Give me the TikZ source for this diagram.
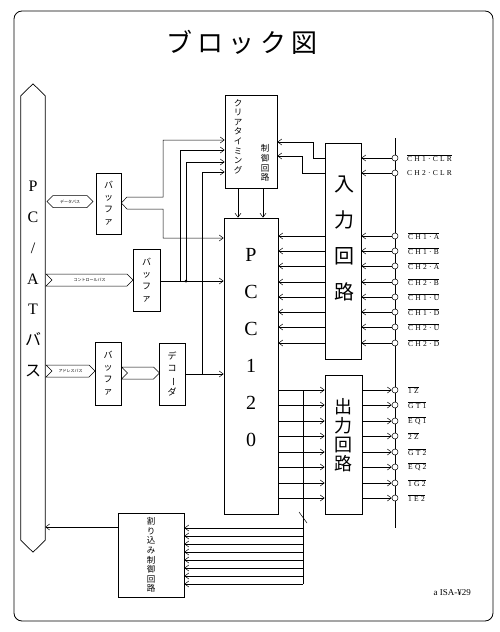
\documentclass[tikz,border=0pt]{standalone}
\usepackage{fontspec}
\setmainfont{Liberation Serif}
\newfontfamily\jp{Noto Sans CJK JP}
\newfontfamily\lblfont[LetterSpace=30]{Liberation Serif}
\newfontfamily\ttlfont[LetterSpace=20]{Noto Sans CJK JP}
\usetikzlibrary{arrows.meta,positioning,shapes.symbols}
\tikzset{
  blk/.style={draw,line width=0.7pt,inner sep=1pt},
  vtxt/.style={align=center,font=\jp\fontsize{8.5}{9.6}\selectfont},
  buftxt/.style={align=center,font=\jp\fontsize{9}{12}\selectfont},
  bigtxt/.style={align=center,font=\fontsize{20}{37}\selectfont},
  wire/.style={line width=0.5pt},
  arr/.style={wire,-{Straight Barb[length=4pt,width=6pt]}},
  term/.style={circle,draw,fill=white,line width=0.5pt,inner sep=0pt,minimum size=6pt},
  buslbl/.style={draw,line width=0.5pt,shape=signal,inner sep=1pt,minimum height=12pt,
    font=\jp\fontsize{4}{4}\selectfont},
  pinlbl/.style={anchor=west,font=\lblfont\fontsize{7.5}{8}\selectfont,inner sep=0pt},
}
\newcommand{\ovl}[1]{$\overline{\mbox{#1}}$}

\begin{document}
\begin{tikzpicture}[x=1pt,y=-1pt]
  \useasboundingbox (0,0) rectangle (500,632);
  \draw[line width=0.8pt,rounded corners=8pt] (14,11) rectangle (493,621);
  \node[font=\ttlfont\fontsize{26}{26}\selectfont] (title) at (242,42) {ブロック図};

  % PC/AT bus
  \node[minimum width=24pt,minimum height=444pt,inner sep=0pt] (bus) at (33,318) {};
  \draw[line width=0.7pt] (bus.north west) -- ([yshift=12pt]bus.north) -- (bus.north east)
    -- (bus.south east) -- ([yshift=-12pt]bus.south) -- (bus.south west) -- cycle;
  \node[align=center,font=\fontsize{16}{30.7}\selectfont] (bustxt) at (33,279)
    {P\\C\\/\\A\\T\\{\jp バ}\\{\jp ス}};

  % blocks
  \node[blk,buftxt,minimum width=25pt,minimum height=61pt] (buf1) at (108.5,203.5) {バ\\ッ\\フ\\ァ};
  \node[blk,buftxt,minimum width=27pt,minimum height=62pt] (buf2) at (146.5,280) {バ\\ッ\\フ\\ァ};
  \node[blk,buftxt,minimum width=26pt,minimum height=63pt] (buf3) at (108,373.5) {バ\\ッ\\フ\\ァ};
  \node[blk,buftxt,minimum width=26pt,minimum height=62pt] (dec) at (172,374)
    {デ\\コ\\\rotatebox[origin=c]{-90}{ー}\\ダ};
  \node[blk,minimum width=52pt,minimum height=93pt] (clr) at (251,141.5) {};
  \node[vtxt] (clrtxt1) at (238,136.5) {ク\\リ\\ア\\タ\\イ\\ミ\\ン\\グ};
  \node[vtxt] (clrtxt2) at (265,163) {制\\御\\回\\路};
  \node[blk,minimum width=54pt,minimum height=296pt] (pcc) at (251,366) {};
  \node[bigtxt] (pcctxt) at (251,348) {P\\C\\C\\1\\2\\0};
  \node[blk,minimum width=36pt,minimum height=216pt] (inb) at (343,251) {};
  \node[align=center,font=\jp\fontsize{20}{36}\selectfont] (inbtxt) at (344,238.5) {入\\力\\回\\路};
  \node[blk,minimum width=37pt,minimum height=139pt] (outb) at (343.5,444.5) {};
  \node[align=center,font=\jp\fontsize{18}{19}\selectfont] (outbtxt) at (343,435) {出\\力\\回\\路};
  \node[blk,vtxt,minimum width=66pt,minimum height=84pt] (irq) at (151,555)
    {割\\り\\込\\み\\制\\御\\回\\路};

  % bus flags
  \node[buslbl,signal to=east and west,minimum width=46pt] (dbus) at (70,201.5) {データバス};
  \node[buslbl,signal from=west,signal to=east,minimum width=87pt] (cbus) at (89.5,280) {コントロールバス};
  \node[buslbl,signal from=west,signal to=east,minimum width=49pt] (abus) at (70.5,371) {アドレスバス};
  \node[buslbl,signal from=west,signal to=east,minimum width=38pt] (adec) at (140.5,373) {};

  % data lines from buffer
  \draw[arr] (buf1.east |- 0,203) -- (127,197) -- (163,197) -- (163,140) -- (clr.west |- 0,140);
  \draw[arr] (buf1.east |- 0,203) -- (127,209) -- (163,209) -- (163,238) -- (pcc.west |- 0,238);
  % control and select lines
  \draw[arr] (buf2.east |- 0,281) -- (pcc.west |- 0,281);
  \draw[arr] (180,281) -- (180,150) -- (clr.west |- 0,150);
  \draw[arr] (186,281) -- (186,162) -- (clr.west |- 0,162);
  \fill (186,281) circle (1.5);
  \draw[arr] (dec.east |- 0,374) -- (pcc.west |- 0,374);
  \draw[arr] (202,374) -- (202,172) -- (clr.west |- 0,172);
  \draw[arr] ([xshift=-13pt]clr.south) -- ([xshift=-13pt]clr.south |- pcc.north);
  \draw[arr] ([xshift=12pt]clr.south) -- ([xshift=12pt]clr.south |- pcc.north);

  % terminals
  \draw[wire] (395,138) -- (395,528);
  \node[term] (c1) at (395,158) {};
  \node[term] (c2) at (395,173) {};
  \node[pinlbl] (cl1) at (407,158) {\ovl{CH1·CLR}};
  \node[pinlbl] (cl2) at (407,173) {CH2·CLR};
  \draw[arr] (c1) -- (inb.east |- c1);
  \draw[arr] (c2) -- (inb.east |- c2);
  \draw[arr] (inb.west |- c1) -- (313,158) -- (313,142) -- (clr.east |- 0,142);
  \draw[arr] (inb.west |- c2) -- (302,173) -- (302,156) -- (clr.east |- 0,156);
  \foreach \n/\y/\t in {1/236/CH1·A, 2/251/CH1·B, 3/266/CH2·A, 4/282/CH2·B,
      5/297/CH1·U, 6/312/CH1·D, 7/327/CH2·U, 8/343/CH2·D} {
    \node[term] (i\n) at (395,\y) {};
    \node[pinlbl] (il\n) at (408,\y) {\ovl{\t}};
    \draw[arr] (i\n) -- (inb.east |- i\n);
    \draw[arr] (inb.west |- i\n) -- (pcc.east |- i\n);
  }
  \foreach \n/\y/\t in {1/390/1Z, 2/405/GT1, 3/421/EQ1, 4/436/2Z,
      5/452/GT2, 6/467/EQ2, 7/483/1G2, 8/498/1E2} {
    \node[term] (o\n) at (395,\y) {};
    \node[pinlbl] (ol\n) at (408,\y) {\ovl{\t}};
    \draw[arr] (pcc.east |- o\n) -- (outb.west |- o\n);
    \draw[arr] (outb.east |- o\n) -- (o\n);
  }

  % interrupt lines
  \draw[wire] (303,390) -- (303,584);
  \draw[wire] (299,512) -- (307,523);
  \foreach \y in {528,536,...,584}
    \draw[arr] (303,\y) -- (irq.east |- 0,\y);
  \draw[arr] (irq.west |- 0,527) -- (bus.east |- 0,527);

  \node[anchor=west,font=\fontsize{9}{9}\selectfont] (src) at (430,593) {a ISA-¥29};
\end{tikzpicture}
\end{document}
